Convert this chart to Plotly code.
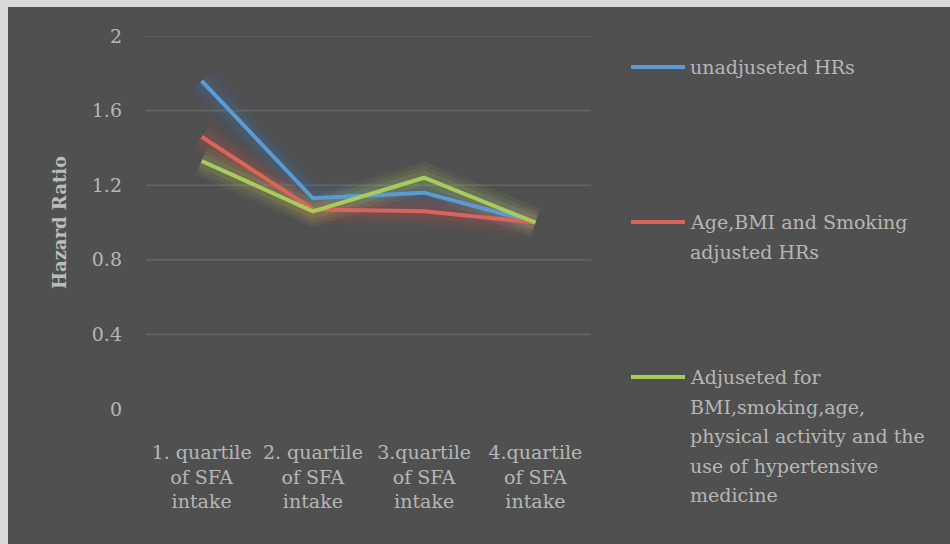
import plotly.graph_objects as go

categories = ["1. quartile<br>of SFA<br>intake", "2. quartile<br>of SFA<br>intake",
              "3.quartile<br>of SFA<br>intake", "4.quartile<br>of SFA<br>intake"]
unadjusted = [1.76, 1.13, 1.16, 1.00]
age_bmi_smoking = [1.46, 1.07, 1.06, 1.00]
fully_adjusted = [1.33, 1.06, 1.24, 1.00]
y_ticks = [0, 0.4, 0.8, 1.2, 1.6, 2]
y_tick_text = ["0", "0.4", "0.8", "1.2", "1.6", "2"]

series_names = [
    ["unadjuseted HRs"],
    ["Age,BMI and Smoking", "adjusted HRs"],
    ["Adjuseted for", "BMI,smoking,age,", "physical activity and the", "use of hypertensive", "medicine"],
]
series_values = [unadjusted, age_bmi_smoking, fully_adjusted]
colors = ["#5b9bd5", "#d9645c", "#a8cc5c"]
glow_colors = ["#3f78b0", "#c0504d", "#b8c85a"]

W, H = 950, 544
L, T = 146, 36
PW, PH = 445, 373
R, B = W - L - PW, H - T - PH

def px_x(p):
    return (p - L) / PW

def px_y(p):
    return (T + PH - p) / PH

FONT = "DejaVu Serif"
TXT = "#b6b6b6"

fig = go.Figure()
xs = list(range(len(categories)))

# glow layers
for vals, gc in zip(series_values, glow_colors):
    for w, op in [(30, 0.07), (22, 0.09), (14, 0.13)]:
        fig.add_trace(go.Scatter(x=xs, y=vals, mode="lines",
                                 line=dict(color=gc, width=w), opacity=op,
                                 hoverinfo="skip", showlegend=False))
for vals, c, nm in zip(series_values, colors, series_names):
    fig.add_trace(go.Scatter(x=xs, y=vals, mode="lines", name=" ".join(nm),
                             line=dict(color=c, width=4), showlegend=False))

shapes = []
# gridlines (skip zero)
for v in y_ticks:
    if v == 0:
        continue
    shapes.append(dict(type="line", xref="paper", yref="y", x0=0, x1=1,
                       y0=v, y1=v, line=dict(color="#646464", width=1.6), layer="below"))
# light frame on left and top edges
shapes.append(dict(type="rect", xref="paper", yref="paper", x0=px_x(0), x1=px_x(8),
                   y0=px_y(H), y1=px_y(0), fillcolor="#d9d9d9", line=dict(width=0), layer="below"))
shapes.append(dict(type="rect", xref="paper", yref="paper", x0=px_x(0), x1=px_x(W),
                   y0=px_y(7), y1=px_y(0), fillcolor="#d9d9d9", line=dict(width=0), layer="below"))

annotations = []
legend_y = [67, 222, 377]
line_gap = 29.5
for names, c, ly in zip(series_names, colors, legend_y):
    shapes.append(dict(type="line", xref="paper", yref="paper", x0=px_x(631), x1=px_x(685),
                       y0=px_y(ly), y1=px_y(ly), line=dict(color=c, width=4)))
    for i, t in enumerate(names):
        annotations.append(dict(xref="paper", yref="paper", x=px_x(688), y=px_y(ly + i * line_gap),
                                xanchor="left", yanchor="middle", text=t, showarrow=False,
                                font=dict(family=FONT, size=19, color=TXT)))

fig.update_layout(
    width=W, height=H,
    margin=dict(l=L, r=R, t=T, b=B),
    paper_bgcolor="#505050", plot_bgcolor="#505050",
    shapes=shapes, annotations=annotations,
    font=dict(family=FONT, size=19, color=TXT),
    xaxis=dict(range=[-0.5, 3.5], tickmode="array", tickvals=xs, ticktext=categories,
               showgrid=False, zeroline=False, showline=False, ticks="",
               tickfont=dict(family=FONT, size=19, color=TXT), ticklabelstandoff=30),
    yaxis=dict(range=[0, 2], tickmode="array", tickvals=y_ticks, ticktext=y_tick_text,
               showgrid=False, zeroline=False, showline=False, ticks="",
               tickfont=dict(family=FONT, size=19, color=TXT), ticklabelstandoff=23,
               title=dict(text="<b>Hazard Ratio</b>", standoff=20,
                          font=dict(family=FONT, size=18, color="#bcbcbc"))),
)

fig.write_html("out.html", config={"displayModeBar": False},
               post_script="document.body.style.margin='0';document.body.style.overflow='hidden';")
